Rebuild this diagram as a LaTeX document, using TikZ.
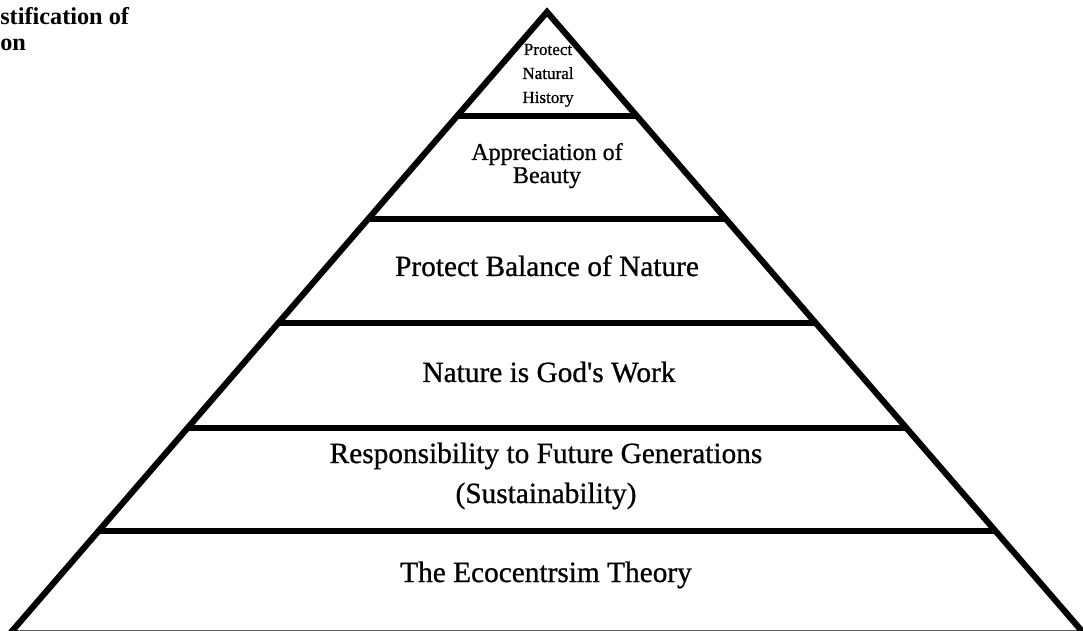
\documentclass[tikz,border=0pt]{standalone}
\usepackage{fontspec}
\setmainfont{Liberation Serif}[FakeBold=0.8]
\newfontfamily\headfont{Liberation Serif}
\usetikzlibrary{calc}
\begin{document}
\begin{tikzpicture}[x=0.75pt,y=-0.75pt,
  edge/.style={line width=4.6pt,line join=miter,black},
  tier/.style={line width=4pt,black},
  lbl/.style={anchor=base,inner sep=0pt,align=center,font=\fontsize{22}{30}\selectfont},
  toplbl/.style={anchor=base,inner sep=0pt,align=center,font=\fontsize{12.8}{18}\selectfont},
  ttl/.style={anchor=base west,inner sep=0pt,align=left,font=\headfont\bfseries\fontsize{18.2}{19.5}\selectfont}]
\useasboundingbox (0,0) rectangle (1083,631);
\fill[white] (0,0) rectangle (1083,631);

% pyramid outline
\coordinate (apex) at (547,12);
\coordinate (baseL) at (13,630);
\coordinate (baseR) at (1081,630);
\coordinate (outL) at (10,633.5);
\coordinate (outR) at (1084,633.5);
\draw[edge] (outL) -- (apex) -- (outR) -- cycle;

% tier separators, fractions measured down from the apex
\foreach \n/\f in {1/0.1683,2/0.3350,3/0.5032,4/0.6731,5/0.8398}{
  \coordinate (sepL\n) at ($(apex)!\f!(baseL)$);
  \coordinate (sepR\n) at ($(apex)!\f!(baseR)$);
  \draw[tier] (sepL\n) -- (sepR\n);
}

% labels (anchored at the baseline of their last line)
\node[toplbl] (t1) at (548,103) {Protect\\Natural\\History};
\node[lbl,font=\fontsize{18}{17.3}\selectfont] (t2) at (547,183) {Appreciation of\\Beauty};
\node[lbl] (t3) at (547,276) {Protect Balance of Nature};
\node[lbl] (t4) at (549,382) {Nature is God\textquotesingle s Work};
\node[lbl,font=\fontsize{22}{30}\selectfont] (t5) at (546,503) {Responsibility to Future Generations\\(Sustainability)};
\node[lbl] (t6) at (546,582) {The Ecocentrsim Theory};

% heading
\node[ttl] (hd) at (0,51) {stification of\\on};
\end{tikzpicture}
\end{document}
